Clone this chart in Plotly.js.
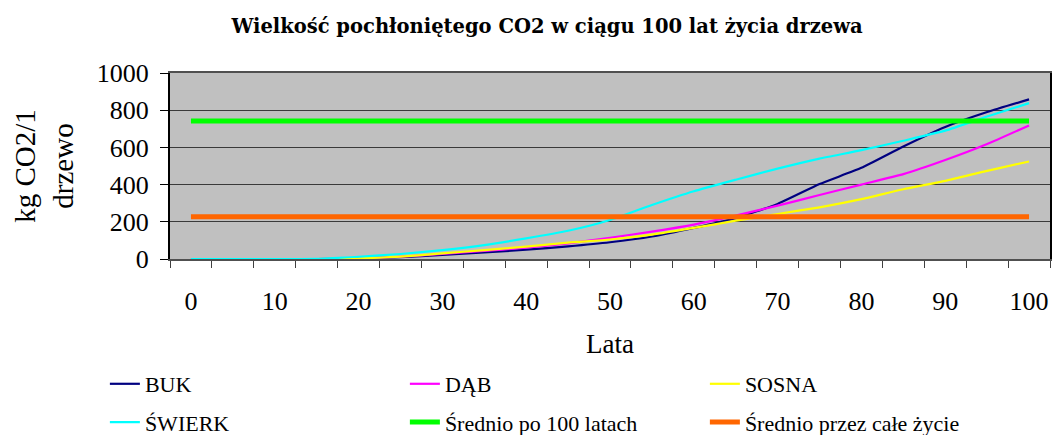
<!DOCTYPE html>
<html>
<head>
<meta charset="utf-8">
<script src="https://cdn.plot.ly/plotly-3.0.1.min.js"></script>
<style>html,body{margin:0;padding:0;background:#fff;}#chart{width:1052px;height:435px;}</style>
</head>
<body>
<div id="chart"></div>
<script>
var years  = [0,5,10,15,20,25,30,35,40,45,50,55,60,65,70,75,80,85,90,95,100];
var buk    = [0,0,0,0,2,10,22,35,50,68,90,121,167,220,296,403,490,605,710,790,858];
var dab    = [0,0,0,0,3,12,27,43,61,84,114,147,185,233,287,344,400,456,532,618,718];
var sosna  = [0,0,0,0,3,13,30,48,66,88,105,131,167,206,242,278,322,375,420,474,524];
var swierk = [0,0,0,1,12,27,48,75,111,152,210,290,364,426,486,540,585,636,690,766,838];
var avgYears = [0,100];
var avgAfter100 = [742,742];
var avgLifetime = [227,227];
var xTickVals = [0,10,20,30,40,50,60,70,80,90,100];
var xTickText = ['0','10','20','30','40','50','60','70','80','90','100'];
var catBounds = [-2.5,2.5,7.5,12.5,17.5,22.5,27.5,32.5,37.5,42.5,47.5,52.5,57.5,62.5,67.5,72.5,77.5,82.5,87.5,92.5,97.5,102.5];

var serif = 'Liberation Serif';
function ser(name, x, y, color, w, leg){
  return {type:'scatter', mode:'lines', name:name, x:x, y:y,
    line:{color:color, width:w, shape:'spline', smoothing:0.5},
    legend:leg, hoverinfo:'skip'};
}
var data = [
  ser('BUK', years, buk, '#000080', 2.2, 'legend'),
  ser('DĄB', years, dab, '#FF00FF', 2.2, 'legend'),
  ser('SOSNA', years, sosna, '#FFFF00', 2.2, 'legend'),
  ser('ŚWIERK', years, swierk, '#00FFFF', 2.2, 'legend2'),
  ser('Średnio po 100 latach', avgYears, avgAfter100, '#00FF00', 5, 'legend2'),
  ser('Średnio przez całe życie', avgYears, avgLifetime, '#FF6600', 5, 'legend2')
];
var legFont = {family:serif, size:22, color:'#000'};
var layout = {
  width:1052, height:435,
  margin:{l:170, r:2, t:73, b:176, autoexpand:false},
  paper_bgcolor:'#ffffff', plot_bgcolor:'#C0C0C0',
  font:{family:serif, color:'#000'},
  title:{text:'<b>Wielkość pochłoniętego CO2 w ciągu 100 lat życia drzewa</b>',
    font:{family:'DejaVu Serif', size:19.5, color:'#000'}, x:0.52, xanchor:'center', y:0.94, yanchor:'middle'},
  xaxis:{range:[-2.5,102.5], tickmode:'array', tickvals:xTickVals, ticktext:xTickText,
    ticks:'outside', ticklen:8, tickcolor:'rgba(0,0,0,0)', ticklabelstandoff:10,
    minor:{tickmode:'array', tickvals:catBounds, ticks:'outside', ticklen:7, tickcolor:'#404040', tickwidth:1, showgrid:false},
    showgrid:false, zeroline:false, showline:true, linecolor:'#505050', linewidth:2, mirror:true,
    layer:'below traces', automargin:false,
    tickfont:{family:serif, size:26, color:'#000'},
    title:{text:'Lata', font:{family:serif, size:27, color:'#000'}, standoff:19}},
  yaxis:{range:[0,1000], dtick:200, tick0:0, ticks:'outside', ticklen:8, tickcolor:'#000',
    ticklabelstandoff:6, automargin:false,
    showgrid:true, gridcolor:'#3a3a3a', gridwidth:1, zeroline:false,
    showline:true, linecolor:'#000', linewidth:2, mirror:true,
    tickfont:{family:serif, size:26, color:'#000'},
    title:{text:'kg CO2/1<br>drzewo', font:{family:serif, size:29, color:'#000'}, standoff:15}},
  legend:{orientation:'h', x:-0.074, xanchor:'left', y:-0.672, yanchor:'middle',
    entrywidth:255, entrywidthmode:'pixels', font:legFont, bgcolor:'rgba(0,0,0,0)', traceorder:'normal'},
  legend2:{orientation:'h', x:-0.074, xanchor:'left', y:-0.878, yanchor:'middle',
    entrywidth:255, entrywidthmode:'pixels', font:legFont, bgcolor:'rgba(0,0,0,0)', traceorder:'normal'},
  showlegend:true
};
Plotly.newPlot('chart', data, layout, {staticPlot:true, displayModeBar:false});
</script>
</body>
</html>
